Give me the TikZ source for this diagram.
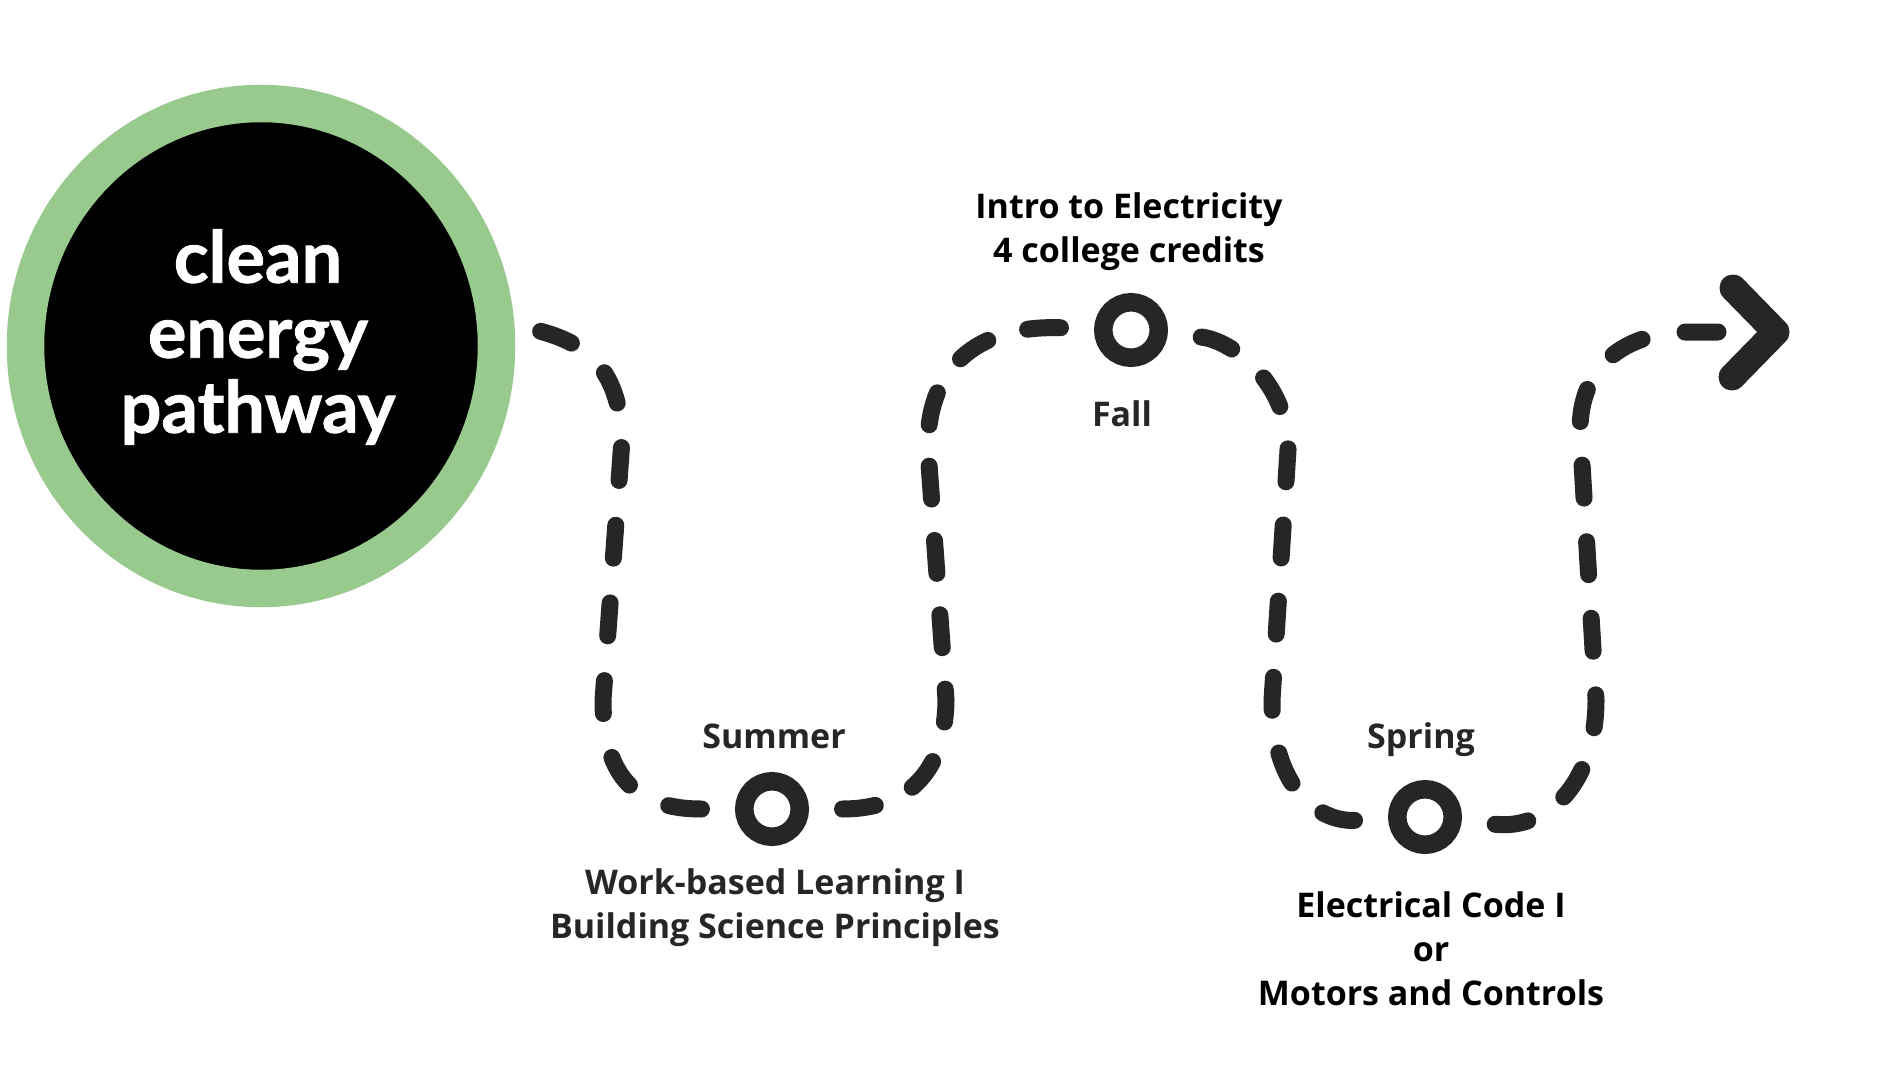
\documentclass[tikz,border=0pt]{standalone}
\usepackage{fontspec}
\setmainfont{Open Sans}
\newfontfamily\titlefont[FakeBold=1.2]{Lato}
\usetikzlibrary{shapes.geometric,decorations.markings}
\definecolor{ink}{HTML}{262626}
\definecolor{ringgreen}{RGB}{152,201,141}
% draw one dashed stretch so that it starts and ends with a full dash
\newcommand\trailseg[1]{%
  \path[decorate,decoration={markings,mark=at position 0.5 with
    {\pgfmathsetmacro\tmplen{\pgfdecoratedpathlength}\xdef\seglen{\tmplen}}}] #1;%
  \pgfmathsetmacro\nper{max(1,round((\seglen-16.5)/37))}%
  \pgfmathsetmacro\offlen{(\seglen-16.5)/\nper-16.5}%
  \draw[trail, dash pattern=on 16.5pt off \offlen pt] #1;}
\begin{document}
\begin{tikzpicture}[x=0.5pt,y=-0.5pt,
  every node/.style={inner sep=0pt},
  trail/.style={draw=ink, line width=8.5pt, line cap=round},
  milestone/.style={circle, draw=ink, line width=9.25pt, minimum size=27.75pt, outer sep=21.4pt},
  season/.style={font=\bfseries\fontsize{17}{22}\selectfont, text=ink, anchor=base},
  course/.style={font=\bfseries\fontsize{17}{22}\selectfont, align=center},
  chev/.style={draw=ink, line width=13.5pt, line cap=round, line join=round}]
\fill[white] (0,0) rectangle (1880,1086);
\useasboundingbox (0,0) rectangle (1880,1086);

% start badge
\node[ellipse, draw=ringgreen, fill=black, line width=18.75pt,
      minimum width=235.5pt, minimum height=242.5pt, outer sep=22.25pt] (big) at (261,346) {};
\node[font=\titlefont\bfseries\fontsize{36}{37.5}\selectfont, text=white, align=center]
      (title) at (258,337) {clean\\energy\\pathway};

% milestones
\node[milestone] (sum) at (772,809) {};
\node[milestone] (fall) at (1131,330) {};
\node[milestone] (spr) at (1425,817) {};

% labels
\node[season] (sumlbl) at (774,748) {Summer};
\node[season] (falllbl) at (1122,426) {Fall};
\node[season] (sprlbl) at (1421,748) {Spring};
\node[course, text=black] (intro) at (1129,232) {Intro to Electricity\\4 college credits};
\node[course, text=ink] (work) at (775,908) {Work-based Learning I\\Building Science Principles};
\node[course, text=black] (elec) at (1431,949) {Electrical Code I\\or\\Motors and Controls};

% arrow head
\coordinate (arrowend) at (1718,332);
\coordinate (chevtop) at (1733,288);
\coordinate (tip) at (1776,332);
\coordinate (chevbot) at (1732,377);

% trail
\trailseg{(big.3) .. controls (592,345) and (620,375) .. (622,440)
  -- (603,700) .. controls (603,770) and (630,809) .. (sum)}
\trailseg{(sum) .. controls (905,809) and (945,775) .. (946,700)
  -- (928,450) .. controls (926,370) and (975,325) .. (fall)}
\trailseg{(fall) .. controls (1230,340) and (1288,380) .. (1288,450)
  -- (1272,700) .. controls (1272,790) and (1320,822) .. (spr)}
\trailseg{(spr) .. controls (1550,830) and (1596,780) .. (1596,700)
  -- (1580,430) .. controls (1580,370) and (1620,332) .. (1690,332) -- (arrowend)}
\draw[chev] (chevtop) -- (tip) -- (chevbot);
\end{tikzpicture}
\end{document}
